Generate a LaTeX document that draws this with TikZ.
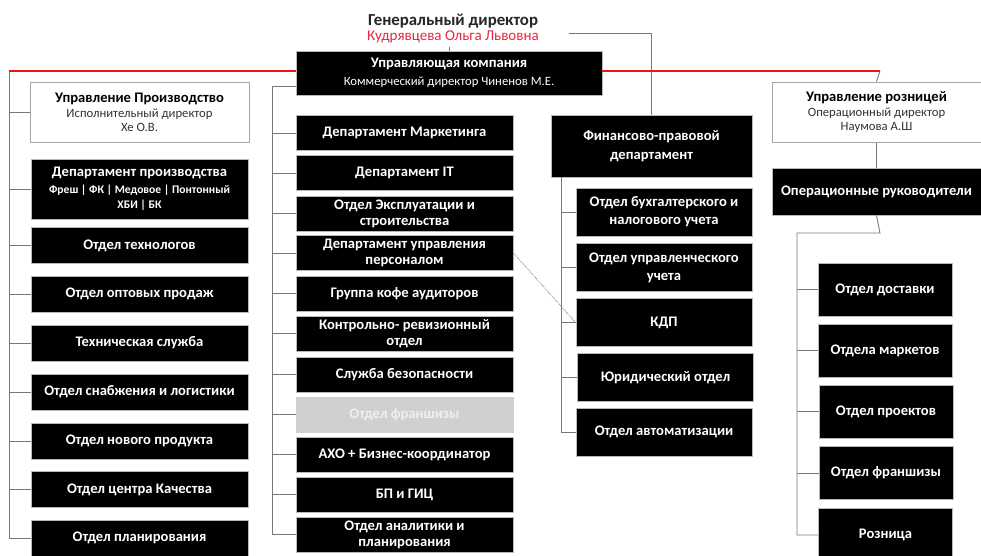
\documentclass[tikz,border=0pt]{standalone}
\usepackage{fontspec}
\setmainfont{Carlito}
\definecolor{gdred}{RGB}{232,40,60}
\definecolor{lnred}{RGB}{240,20,20}
\definecolor{lngray}{RGB}{120,120,120}
\definecolor{frgray}{RGB}{208,208,208}
\begin{document}
\begin{tikzpicture}[x=1pt,y=-1pt,
  blk/.style={fill=black, draw=gray!55, line width=0.8pt, text=white, font=\bfseries\fontsize{14.6}{16}\selectfont, align=center, inner sep=0pt},
  wbox/.style={fill=white, draw=gray!70, line width=1pt, text=black, align=center, inner sep=0pt},
  lbox/.style={blk, minimum width=217pt, minimum height=36pt},
  mbox/.style={blk, minimum width=217pt, minimum height=35pt},
  fbox/.style={blk, minimum width=176pt, minimum height=48pt, font=\bfseries\fontsize{14.6}{18}\selectfont},
  rbox/.style={blk, minimum width=134pt, minimum height=53pt},
  conn/.style={draw=lngray, line width=0.9pt},
  redln/.style={draw=lnred, line width=1.2pt},
  dotln/.style={draw=gray, line width=0.8pt, densely dotted}
]
\clip (0,0) rectangle (981,555);
\fill[white] (0,0) rectangle (981,555);

% coordinates
\coordinate (rl) at (9,71);
\coordinate (rr) at (880,71);
\coordinate (mv) at (272,86);
\coordinate (gdc) at (569,33);
\coordinate (fv) at (561,177);
\coordinate (rc1) at (880,233);
\coordinate (rv) at (797,233);

% top
\node[font=\bfseries\fontsize{16.8}{18}\selectfont, text=black!85] (gd) at (453,21) {Генеральный директор};
\node[text=gdred, font=\fontsize{15}{17}\selectfont] (gdn) at (453,37) {Кудрявцева Ольга Львовна};

\node[blk, minimum width=306pt, minimum height=44pt, font=\bfseries\fontsize{14.6}{17}\selectfont] (uk) at (449,73)
  {Управляющая компания\\[1pt]{\mdseries\fontsize{12.7}{14}\selectfont Коммерческий директор Чиненов М.Е.}};

% production
\node[wbox, minimum width=219pt, minimum height=60pt] (pr) at (139.5,112)
  {\bfseries\fontsize{14.6}{16}\selectfont Управление Производство\\[3pt]{\fontsize{12.7}{15.5}\selectfont\color{black!80} Исполнительный директор}\\[2pt]{\fontsize{12.7}{15}\selectfont\color{black!80} Хе О.В.}};

\node[lbox, minimum height=60pt] (l0) at (139.5,189)
  {Департамент производства\\[1pt]{\fontsize{11.6}{14}\selectfont Фреш | ФК | Медовое | Понтонный}\\[-1pt]{\fontsize{11.6}{13}\selectfont ХБИ | БК}};
\node[lbox] (l1) at (139.5,245.5) {Отдел технологов};
\node[lbox] (l2) at (139.5,294) {Отдел оптовых продаж};
\node[lbox] (l3) at (139.5,343) {Техническая служба};
\node[lbox] (l4) at (139.5,392) {Отдел снабжения и логистики};
\node[lbox] (l5) at (139.5,441) {Отдел нового продукта};
\node[lbox] (l6) at (139.5,489.5) {Отдел центра Качества};
\node[lbox] (l7) at (139.5,538) {Отдел планирования};

% middle column
\node[mbox] (m1) at (404.5,133) {Департамент Маркетинга};
\node[mbox] (m2) at (404.5,173) {Департамент IT};
\node[mbox] (m3) at (404.5,213.5) {Отдел Эксплуатации и\\строительства};
\node[mbox] (m4) at (404.5,253) {Департамент управления\\персоналом};
\node[mbox] (m5) at (404.5,293.5) {Группа кофе аудиторов};
\node[mbox] (m6) at (404.5,333.5) {Контрольно- ревизионный\\отдел};
\node[mbox] (m7) at (404.5,374.5) {Служба безопасности};
\node[mbox, fill=frgray, draw=frgray, text=white!94!black] (m8) at (404.5,414.5) {Отдел франшизы};
\node[mbox] (m9) at (404.5,454.5) {АХО + Бизнес-координатор};
\node[mbox] (m10) at (404.5,494.5) {БП и ГИЦ};
\node[mbox] (m11) at (404.5,534.5) {Отдел аналитики и\\планирования};

% finance
\node[blk, minimum width=201pt, minimum height=62pt, font=\bfseries\fontsize{14.6}{19}\selectfont] (fin) at (651.5,146) {Финансово-правовой\\департамент};
\node[fbox] (f1) at (664,212) {Отдел бухгалтерского и\\налогового учета};
\node[fbox] (f2) at (664,267.5) {Отдел управленческого\\учета};
\node[fbox] (f3) at (664,322.5) {КДП};
\node[fbox] (f4) at (665.5,377.5) {Юридический отдел};
\node[fbox] (f5) at (664,432) {Отдел автоматизации};

% retail
\node[wbox, minimum width=209pt, minimum height=60pt] (rt) at (876.5,112)
  {\bfseries\fontsize{14.6}{16}\selectfont Управление розницей\\[3pt]{\fontsize{12.7}{15.5}\selectfont\color{black!80} Операционный директор}\\[2pt]{\fontsize{12.7}{15}\selectfont\color{black!80} Наумова А.Ш}};
\node[blk, minimum width=209pt, minimum height=47pt] (op) at (876.5,191.5) {Операционные руководители};
\node[rbox] (r1) at (885,289.5) {Отдел доставки};
\node[rbox] (r2) at (885,350.5) {Отдела маркетов};
\node[rbox] (r3) at (886,411.5) {Отдел проектов};
\node[rbox] (r4) at (886,473) {Отдел франшизы};
\node[rbox] (r5) at (885.5,535) {Розница};

% connectors
\draw[conn] (rl) |- (l7.west);
\foreach \n in {pr,l0,l1,l2,l3,l4,l5,l6} \draw[conn] (rl |- \n.west) -- (\n.west);
\draw[conn] (uk.west |- mv) -- (mv) |- (m11.west);
\foreach \n in {m1,m2,m3,m4,m5,m6,m7,m8,m9,m10} \draw[conn] (mv |- \n.west) -- (\n.west);
\draw[conn] (uk.north) -- ++(0,-3.5);
\draw[conn] (gdc) -| (fin.north);
\draw[conn] (fv) |- (f5.west);
\foreach \n in {f1,f2,f3,f4} \draw[conn] (fv |- \n.west) -- (\n.west);
\draw[conn] (rr) -- (rt.north);
\draw[conn] (rt.south) -- (op.north);
\draw[conn] (op.south) -- (rc1) -- (rv) |- (r5.west);
\foreach \n in {r1,r2,r3,r4} \draw[conn] (rv |- \n.west) -- (\n.west);
\draw[dotln] (m4.east) -- (f3.west);
% red line
\draw[redln] (rl) -- (uk.west |- rl);
\draw[redln] (uk.east |- rr) -- (rr);
\end{tikzpicture}
\end{document}
